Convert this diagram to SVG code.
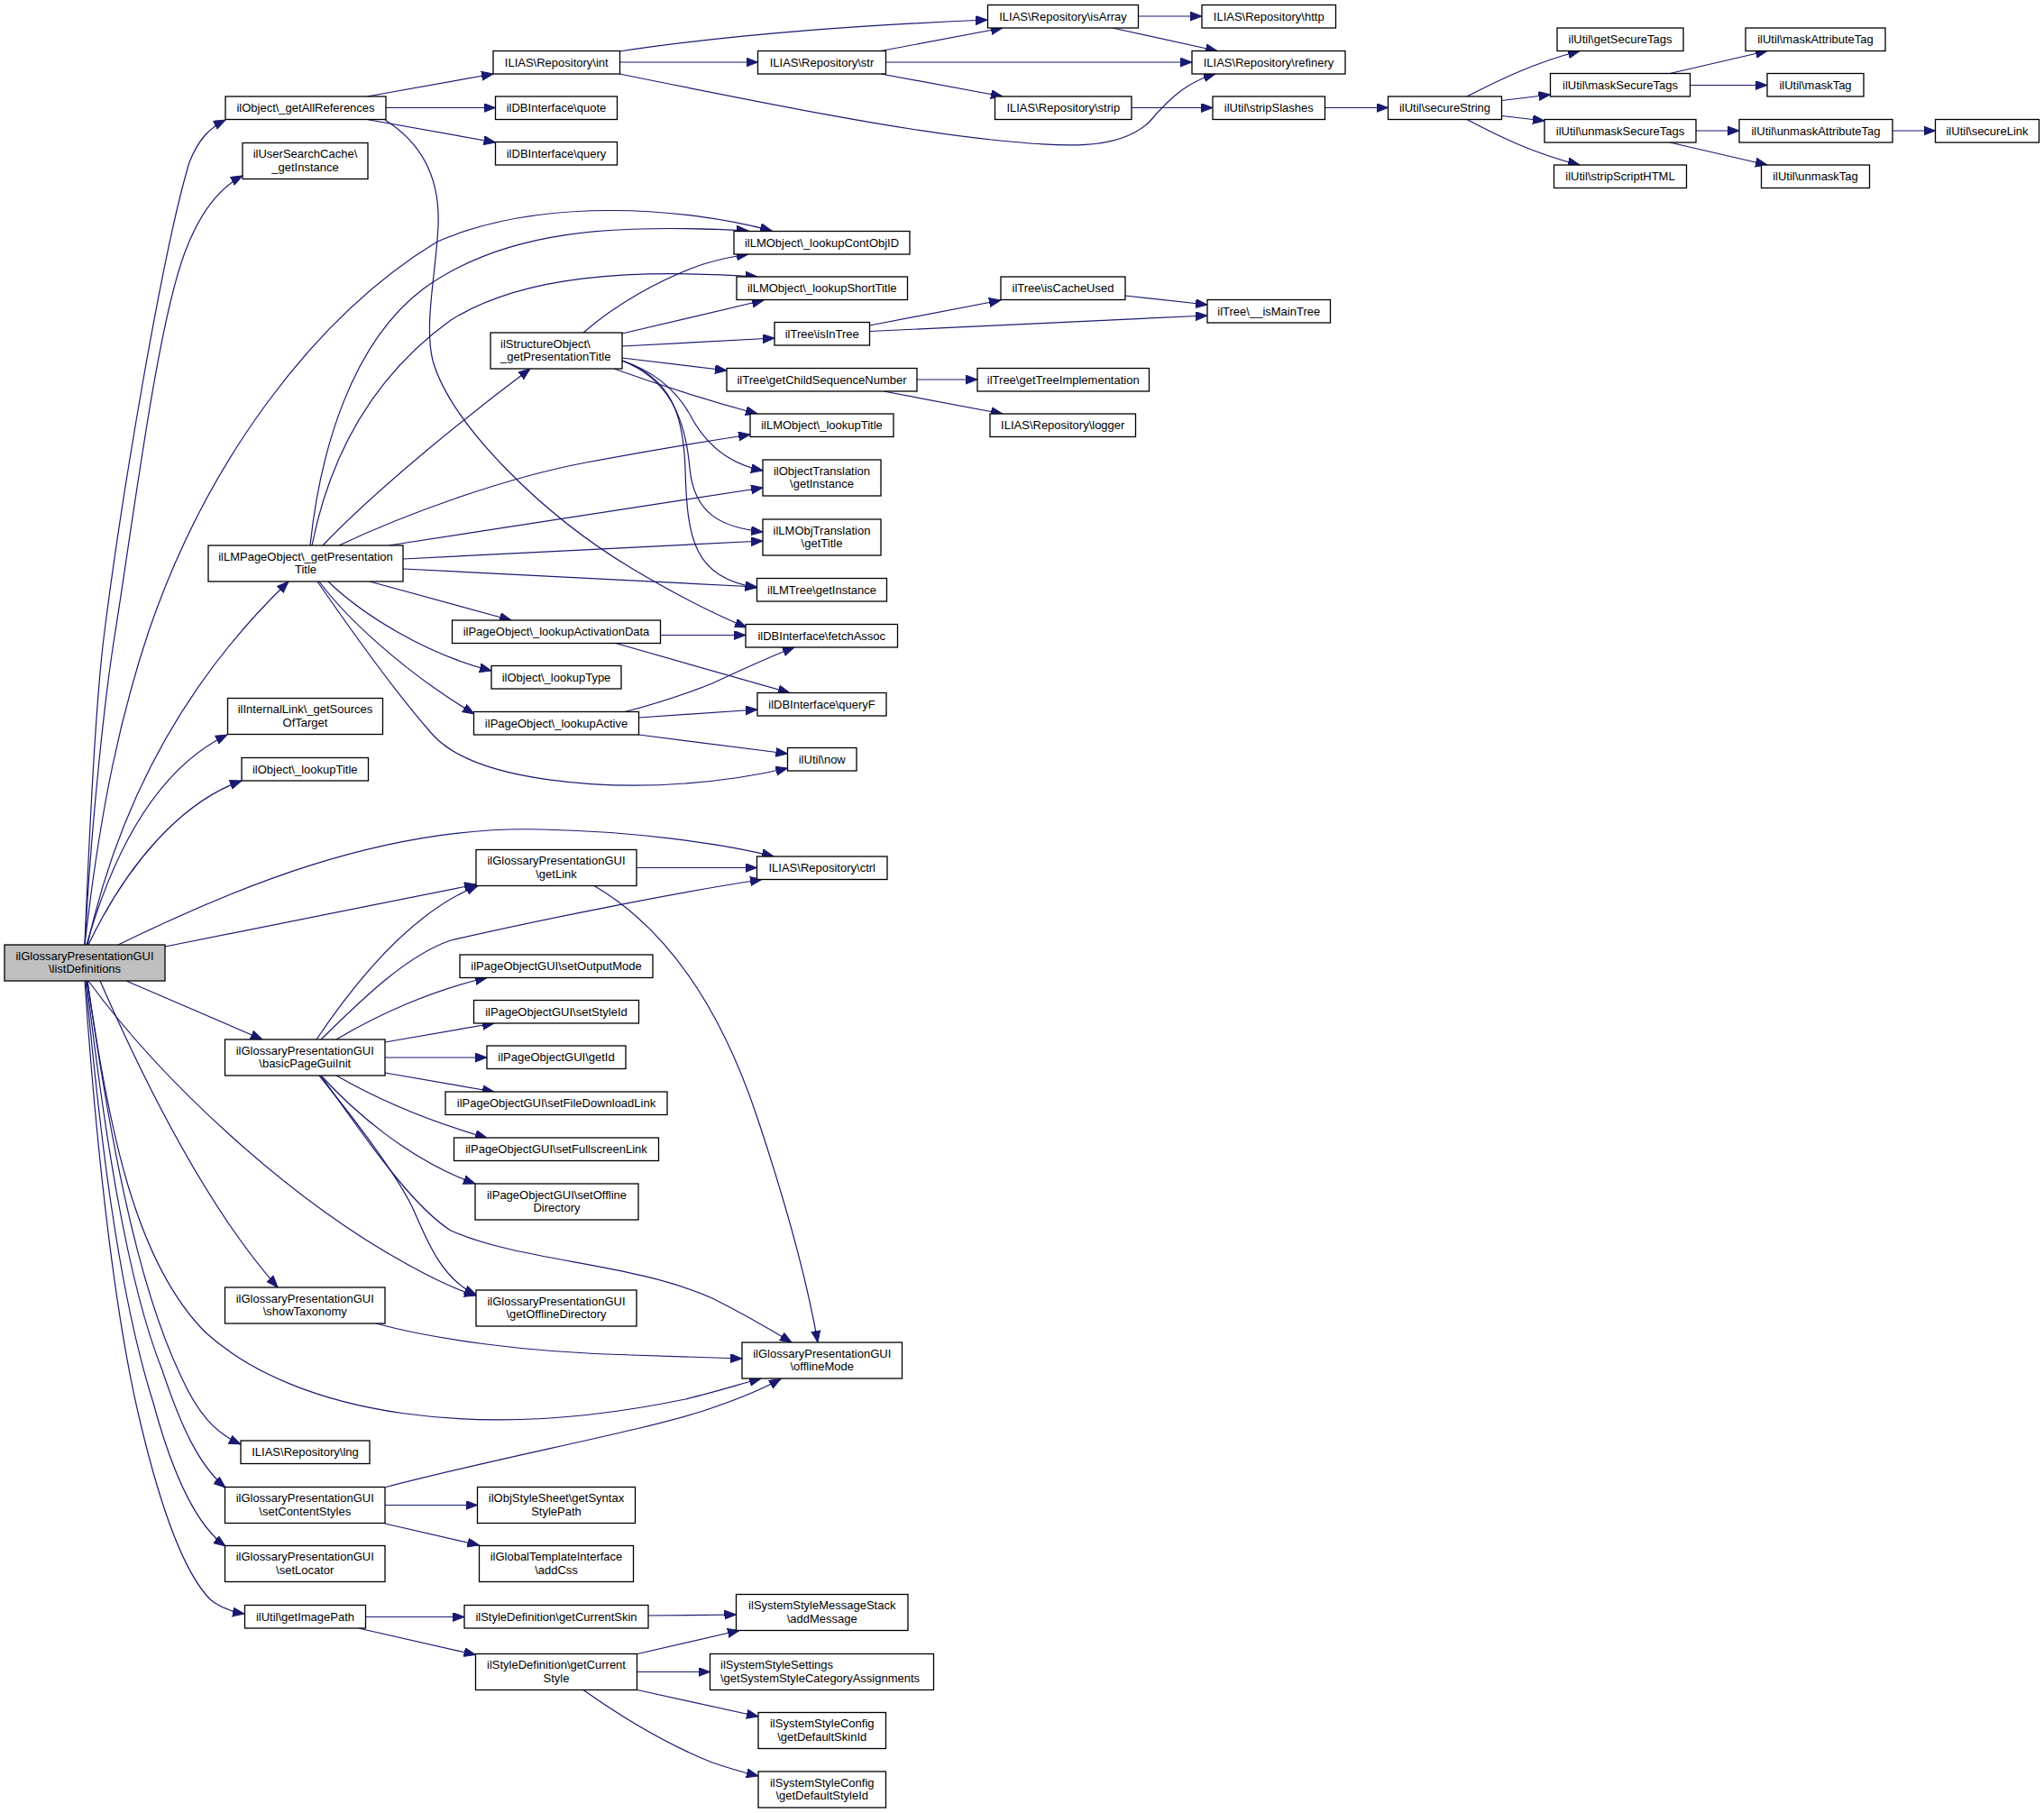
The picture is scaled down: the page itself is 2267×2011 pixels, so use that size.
<svg xmlns="http://www.w3.org/2000/svg" width="2267" height="2011" viewBox="0 0 2267 2011">
<style>
.n rect{fill:#fff;stroke:#000;stroke-width:1.3}
.root rect{fill:#bfbfbf}
.n text{font-family:"Liberation Sans",Arial,Helvetica,sans-serif;font-size:13px;fill:#000;text-anchor:middle}
.n text.l{text-anchor:start}
.e path{fill:none;stroke:#191970;stroke-width:1.2;marker-end:url(#arr)}
</style>
<defs>
<marker id="arr" markerUnits="userSpaceOnUse" markerWidth="15" markerHeight="12" refX="13" refY="5" orient="auto"><path d="M0,0 L13,5 L0,10 z" fill="#191970" stroke="#191970" stroke-width="1"/></marker>
</defs>
<rect width="2267" height="2011" fill="#fff"/>
<g id="connectors" class="e">
<path d="M94,1048 C100,900 108,760 116,700 C135,550 180,280 210,180 C220,155 232,142 250,133"/>
<path d="M94,1048 C102,900 118,760 128,700 C150,560 175,360 205,280 C220,240 240,210 269,195"/>
<path d="M94,1048 C112,890 135,790 165,700 C230,510 350,350 485,268 C600,218 760,230 856,256"/>
<path d="M97,1048 C130,900 200,760 320,645"/>
<path d="M96,1048 C130,930 180,850 252,815"/>
<path d="M98,1048 C140,960 200,890 268,866"/>
<path d="M131,1048 C250,990 420,915 600,920 C700,922 800,935 858,950"/>
<path d="M183,1050 L528,981"/>
<path d="M140,1088 L291,1153"/>
<path d="M111,1088 C160,1200 230,1340 308,1428"/>
<path d="M98,1088 C180,1200 320,1330 451,1402 C478,1417 503,1430 528,1437"/>
<path d="M97,1088 C120,1250 150,1400 228,1478 C330,1570 530,1600 760,1552 C790,1545 815,1537 844,1529"/>
<path d="M97,1088 C120,1250 150,1420 200,1525 C220,1570 240,1590 267,1602"/>
<path d="M96,1088 C115,1250 140,1420 180,1520 C200,1580 220,1625 250,1650"/>
<path d="M95,1088 C110,1250 130,1430 170,1556 C190,1630 215,1690 250,1715"/>
<path d="M94,1088 C105,1250 125,1450 155,1575 C175,1660 200,1740 233,1774 C245,1784 258,1788 271,1790"/>
<path d="M407,107 L547,82"/>
<path d="M428,119.5 L549.5,119.5"/>
<path d="M407,132.5 L549.5,158"/>
<path d="M427,133 C470,160 488,200 486,250 C484,300 470,360 480,400 C500,470 600,570 700,630 C750,660 790,680 828,696"/>
<path d="M687,57 C800,40 950,28 1095,22"/>
<path d="M687.5,69 L840.5,69"/>
<path d="M687,82 C850,115 1000,145 1100,155 C1180,163 1240,168 1275,135 C1300,105 1320,90 1348,82"/>
<path d="M977,56.5 L1112,31"/>
<path d="M982.5,69 L1322,69"/>
<path d="M977,82 L1112,107"/>
<path d="M1262.5,18 L1333,18"/>
<path d="M1234,31 L1350,56.5"/>
<path d="M1255,119.5 L1345,119.5"/>
<path d="M1469.5,119.5 L1539.5,119.5"/>
<path d="M1627,107 C1660,90 1700,70 1752,56.5"/>
<path d="M1665.5,111.5 L1719.5,105"/>
<path d="M1665.5,128.5 L1713,134"/>
<path d="M1627,132.5 C1660,150 1700,170 1752,183"/>
<path d="M1852,81.5 L1960,56.5"/>
<path d="M1874.5,94.5 L1960,94.5"/>
<path d="M1881,145 L1929,145"/>
<path d="M1852,158 L1960,183"/>
<path d="M2099,145 L2146.5,145"/>
<path d="M647,369 C680,340 730,310 780,293 C800,287 815,284 830,282"/>
<path d="M690,370 L847,333"/>
<path d="M690,384 L859,375"/>
<path d="M690,397 L806,411"/>
<path d="M681,409 C720,423 780,443 840,459"/>
<path d="M690,400 C720,410 750,430 768,465 C785,495 810,515 846,522"/>
<path d="M690,400 C740,420 760,460 765,520 C770,570 800,585 846,590"/>
<path d="M690,400 C745,420 758,460 760,520 C762,600 770,640 839.5,652"/>
<path d="M358,605 C420,540 520,460 588,409"/>
<path d="M344,605 C355,500 390,380 470,320 C560,255 680,248 830,256"/>
<path d="M346,605 C365,510 410,420 500,355 C580,305 700,298 840,307"/>
<path d="M376,605 C450,570 560,530 650,513 C720,500 780,490 832,482"/>
<path d="M431,605 L846,541"/>
<path d="M447,620 L846,600"/>
<path d="M447,631 L839.5,651"/>
<path d="M410,645 L567,688"/>
<path d="M364,645 C400,680 470,725 545,744"/>
<path d="M354,645 C380,680 440,740 526,792"/>
<path d="M352,645 C390,700 440,770 480,815 C530,870 680,875 760,869 C800,866 840,860 873.5,852"/>
<path d="M732.5,704.5 L827,704.5"/>
<path d="M683,713.5 L876,768.5"/>
<path d="M693,789.5 C730,780 760,770 790,758 C820,744 850,730 881,718"/>
<path d="M708.5,796 L840,787"/>
<path d="M708.5,815 L873.5,836"/>
<path d="M964.5,361 L1110,333"/>
<path d="M964.5,367.5 L1339,350"/>
<path d="M1248,328 L1339,338"/>
<path d="M1017,421 L1084,421"/>
<path d="M980,434 L1112,459"/>
<path d="M706,962.5 L839.5,962.5"/>
<path d="M659,982.5 C740,1030 800,1120 840,1240 C870,1330 895,1420 907,1489"/>
<path d="M351,1153 C400,1080 460,1010 530,982.5"/>
<path d="M356,1153 C400,1110 450,1060 500,1043 C600,1020 750,990 845,975.5"/>
<path d="M373,1153 C420,1125 480,1098 540,1084.5"/>
<path d="M427,1156 L548,1135"/>
<path d="M427,1173 L540,1173"/>
<path d="M427,1190 L548,1211"/>
<path d="M373,1193 C420,1220 480,1245 540,1262"/>
<path d="M356,1193 C390,1230 450,1285 527,1313"/>
<path d="M354,1193 C400,1250 445,1310 460,1345 C475,1380 492,1420 528,1436"/>
<path d="M356,1193 C410,1270 460,1340 500,1365 C580,1400 700,1400 790,1440 C820,1455 850,1472 878,1489"/>
<path d="M417,1468 C480,1485 580,1500 700,1503 C750,1505 790,1506 823,1507"/>
<path d="M428,1649.5 C560,1615 700,1590 780,1565 C810,1555 838,1545 866,1529.5"/>
<path d="M427,1669.5 L529.5,1669.5"/>
<path d="M427,1690 L531.5,1714"/>
<path d="M405.5,1793.5 L515,1793.5"/>
<path d="M397.5,1806 L527.5,1835.5"/>
<path d="M719,1792 L816.5,1791"/>
<path d="M707,1834.5 L820,1808.5"/>
<path d="M706.5,1854.5 L787.5,1854.5"/>
<path d="M707,1874.5 L841,1904"/>
<path d="M647,1874.5 C690,1905 740,1935 790,1955 C810,1962 825,1966 841,1970"/>
</g>
<g id="n_L" class="n root"><rect x="5" y="1048" width="178" height="40"/><text x="94" y="1064.5">ilGlossaryPresentationGUI</text><text x="94" y="1079">\listDefinitions</text></g>
<g id="n_gar" class="n"><rect x="250" y="107" width="178" height="25.5"/><text x="339" y="124.3">ilObject\_getAllReferences</text></g>
<g id="n_usc" class="n"><rect x="269" y="158.5" width="139" height="40"/><text x="338.5" y="175">ilUserSearchCache\</text><text x="338.5" y="189.5">_getInstance</text></g>
<g id="n_lmp" class="n"><rect x="231" y="605" width="216" height="40"/><text x="339" y="621.5">ilLMPageObject\_getPresentation</text><text x="339" y="636">Title</text></g>
<g id="n_il" class="n"><rect x="252.5" y="774.5" width="172" height="40"/><text x="338.5" y="791">ilInternalLink\_getSources</text><text x="338.5" y="805.5">OfTarget</text></g>
<g id="n_olt" class="n"><rect x="268" y="840.5" width="140.5" height="25.5"/><text x="338.25" y="857.8">ilObject\_lookupTitle</text></g>
<g id="n_bpg" class="n"><rect x="249.5" y="1153" width="177.5" height="40"/><text x="338.25" y="1169.5">ilGlossaryPresentationGUI</text><text x="338.25" y="1184">\basicPageGuiInit</text></g>
<g id="n_st" class="n"><rect x="249.5" y="1428" width="177.5" height="40"/><text x="338.25" y="1444.5">ilGlossaryPresentationGUI</text><text x="338.25" y="1459">\showTaxonomy</text></g>
<g id="n_lng" class="n"><rect x="267" y="1598" width="143" height="25.5"/><text x="338.5" y="1615.3">ILIAS\Repository\lng</text></g>
<g id="n_scs" class="n"><rect x="249.5" y="1649.5" width="177.5" height="40"/><text x="338.25" y="1666">ilGlossaryPresentationGUI</text><text x="338.25" y="1680.5">\setContentStyles</text></g>
<g id="n_sl" class="n"><rect x="249.5" y="1714.5" width="177.5" height="40"/><text x="338.25" y="1731">ilGlossaryPresentationGUI</text><text x="338.25" y="1745.5">\setLocator</text></g>
<g id="n_gip" class="n"><rect x="271.5" y="1780.5" width="134" height="25.5"/><text x="338.5" y="1797.8">ilUtil\getImagePath</text></g>
<g id="n_int" class="n"><rect x="547" y="56.5" width="140.5" height="25.5"/><text x="617.25" y="73.8">ILIAS\Repository\int</text></g>
<g id="n_quote" class="n"><rect x="549.5" y="107" width="135" height="25.5"/><text x="617" y="124.3">ilDBInterface\quote</text></g>
<g id="n_query" class="n"><rect x="549.5" y="157.5" width="135" height="25.5"/><text x="617" y="174.8">ilDBInterface\query</text></g>
<g id="n_so" class="n"><rect x="544" y="369" width="146" height="40"/><text class="l" x="555" y="385.5">ilStructureObject\</text><text class="l" x="555" y="400">_getPresentationTitle</text></g>
<g id="n_lad" class="n"><rect x="501.5" y="688" width="231" height="25.5"/><text x="617" y="705.3">ilPageObject\_lookupActivationData</text></g>
<g id="n_lt" class="n"><rect x="545" y="738.5" width="144" height="25.5"/><text x="617" y="755.8">ilObject\_lookupType</text></g>
<g id="n_la" class="n"><rect x="525.5" y="789.5" width="183" height="25.5"/><text x="617" y="806.8">ilPageObject\_lookupActive</text></g>
<g id="n_gl" class="n"><rect x="528" y="942.5" width="178" height="40"/><text x="617" y="959">ilGlossaryPresentationGUI</text><text x="617" y="973.5">\getLink</text></g>
<g id="n_som" class="n"><rect x="510" y="1059" width="214" height="25.5"/><text x="617" y="1076.3">ilPageObjectGUI\setOutputMode</text></g>
<g id="n_ssi" class="n"><rect x="525.5" y="1109.5" width="183" height="25.5"/><text x="617" y="1126.8">ilPageObjectGUI\setStyleId</text></g>
<g id="n_gid" class="n"><rect x="540" y="1160" width="154" height="25.5"/><text x="617" y="1177.3">ilPageObjectGUI\getId</text></g>
<g id="n_sfd" class="n"><rect x="494" y="1211" width="246" height="25.5"/><text x="617" y="1228.3">ilPageObjectGUI\setFileDownloadLink</text></g>
<g id="n_sfl" class="n"><rect x="503.5" y="1262" width="227" height="25.5"/><text x="617" y="1279.3">ilPageObjectGUI\setFullscreenLink</text></g>
<g id="n_sod" class="n"><rect x="527" y="1313" width="181" height="40"/><text x="617.5" y="1329.5">ilPageObjectGUI\setOffline</text><text x="617.5" y="1344">Directory</text></g>
<g id="n_god" class="n"><rect x="528" y="1431" width="178" height="40"/><text x="617" y="1447.5">ilGlossaryPresentationGUI</text><text x="617" y="1462">\getOfflineDirectory</text></g>
<g id="n_gss" class="n"><rect x="529.5" y="1649.5" width="175" height="40"/><text x="617" y="1666">ilObjStyleSheet\getSyntax</text><text x="617" y="1680.5">StylePath</text></g>
<g id="n_css" class="n"><rect x="531.5" y="1714.5" width="171" height="40"/><text x="617" y="1731">ilGlobalTemplateInterface</text><text x="617" y="1745.5">\addCss</text></g>
<g id="n_gcs" class="n"><rect x="515" y="1780.5" width="204" height="25.5"/><text x="617" y="1797.8">ilStyleDefinition\getCurrentSkin</text></g>
<g id="n_gcst" class="n"><rect x="527.5" y="1834.5" width="179" height="40"/><text x="617" y="1851">ilStyleDefinition\getCurrent</text><text x="617" y="1865.5">Style</text></g>
<g id="n_str" class="n"><rect x="840.5" y="56.5" width="142" height="25.5"/><text x="911.5" y="73.8">ILIAS\Repository\str</text></g>
<g id="n_lcoi" class="n"><rect x="814" y="256.5" width="195" height="25.5"/><text x="911.5" y="273.8">ilLMObject\_lookupContObjID</text></g>
<g id="n_lst" class="n"><rect x="817" y="307" width="189.5" height="25.5"/><text x="911.75" y="324.3">ilLMObject\_lookupShortTitle</text></g>
<g id="n_iit" class="n"><rect x="859" y="357.5" width="105.5" height="25.5"/><text x="911.75" y="374.8">ilTree\isInTree</text></g>
<g id="n_gcsn" class="n"><rect x="806" y="408.5" width="211" height="25.5"/><text x="911.5" y="425.8">ilTree\getChildSequenceNumber</text></g>
<g id="n_lmlt" class="n"><rect x="832" y="459" width="159" height="25.5"/><text x="911.5" y="476.3">ilLMObject\_lookupTitle</text></g>
<g id="n_otr" class="n"><rect x="846" y="510" width="131" height="40"/><text x="911.5" y="526.5">ilObjectTranslation</text><text x="911.5" y="541">\getInstance</text></g>
<g id="n_lmot" class="n"><rect x="846" y="576" width="131" height="40"/><text x="911.5" y="592.5">ilLMObjTranslation</text><text x="911.5" y="607">\getTitle</text></g>
<g id="n_lmtree" class="n"><rect x="839.5" y="641.5" width="144" height="25.5"/><text x="911.5" y="658.8">ilLMTree\getInstance</text></g>
<g id="n_fa" class="n"><rect x="827" y="692.5" width="168.5" height="25.5"/><text x="911.25" y="709.8">ilDBInterface\fetchAssoc</text></g>
<g id="n_qf" class="n"><rect x="840" y="768.5" width="143" height="25.5"/><text x="911.5" y="785.8">ilDBInterface\queryF</text></g>
<g id="n_now" class="n"><rect x="873.5" y="829.5" width="76.5" height="25.5"/><text x="911.75" y="846.8">ilUtil\now</text></g>
<g id="n_ctrl" class="n"><rect x="839.5" y="950" width="144.5" height="25.5"/><text x="911.75" y="967.3">ILIAS\Repository\ctrl</text></g>
<g id="n_om" class="n"><rect x="823" y="1489" width="177.5" height="40"/><text x="911.75" y="1505.5">ilGlossaryPresentationGUI</text><text x="911.75" y="1520">\offlineMode</text></g>
<g id="n_am" class="n"><rect x="816.5" y="1768.5" width="190.5" height="40"/><text x="911.75" y="1785">ilSystemStyleMessageStack</text><text x="911.75" y="1799.5">\addMessage</text></g>
<g id="n_gsca" class="n"><rect x="787.5" y="1834.5" width="248" height="40"/><text class="l" x="799" y="1851">ilSystemStyleSettings</text><text class="l" x="799" y="1865.5">\getSystemStyleCategoryAssignments</text></g>
<g id="n_gdsk" class="n"><rect x="841" y="1899.5" width="141.5" height="40"/><text x="911.75" y="1916">ilSystemStyleConfig</text><text x="911.75" y="1930.5">\getDefaultSkinId</text></g>
<g id="n_gdst" class="n"><rect x="841" y="1965" width="141.5" height="40"/><text x="911.75" y="1981.5">ilSystemStyleConfig</text><text x="911.75" y="1996">\getDefaultStyleId</text></g>
<g id="n_isa" class="n"><rect x="1095.5" y="5.5" width="167" height="25.5"/><text x="1179" y="22.8">ILIAS\Repository\isArray</text></g>
<g id="n_strip" class="n"><rect x="1103.5" y="107" width="151.5" height="25.5"/><text x="1179.25" y="124.3">ILIAS\Repository\strip</text></g>
<g id="n_icu" class="n"><rect x="1110" y="307" width="138" height="25.5"/><text x="1179" y="324.3">ilTree\isCacheUsed</text></g>
<g id="n_gti" class="n"><rect x="1084" y="408.5" width="190.5" height="25.5"/><text x="1179.25" y="425.8">ilTree\getTreeImplementation</text></g>
<g id="n_log" class="n"><rect x="1098" y="459" width="161.5" height="25.5"/><text x="1178.75" y="476.3">ILIAS\Repository\logger</text></g>
<g id="n_http" class="n"><rect x="1333" y="5.5" width="148.5" height="25.5"/><text x="1407.25" y="22.8">ILIAS\Repository\http</text></g>
<g id="n_ref" class="n"><rect x="1322" y="56.5" width="170" height="25.5"/><text x="1407" y="73.8">ILIAS\Repository\refinery</text></g>
<g id="n_ss" class="n"><rect x="1345" y="107" width="124.5" height="25.5"/><text x="1407.25" y="124.3">ilUtil\stripSlashes</text></g>
<g id="n_imt" class="n"><rect x="1339" y="332.5" width="136.5" height="25.5"/><text x="1407.25" y="349.8">ilTree\__isMainTree</text></g>
<g id="n_sst" class="n"><rect x="1539.5" y="107" width="126" height="25.5"/><text x="1602.5" y="124.3">ilUtil\secureString</text></g>
<g id="n_gst" class="n"><rect x="1727" y="31" width="140" height="25.5"/><text x="1797" y="48.3">ilUtil\getSecureTags</text></g>
<g id="n_mst" class="n"><rect x="1719.5" y="81.5" width="155" height="25.5"/><text x="1797" y="98.8">ilUtil\maskSecureTags</text></g>
<g id="n_ust" class="n"><rect x="1713" y="132.5" width="168" height="25.5"/><text x="1797" y="149.8">ilUtil\unmaskSecureTags</text></g>
<g id="n_ssh" class="n"><rect x="1723.5" y="183" width="147" height="25.5"/><text x="1797" y="200.3">ilUtil\stripScriptHTML</text></g>
<g id="n_mat" class="n"><rect x="1936" y="31" width="155" height="25.5"/><text x="2013.5" y="48.3">ilUtil\maskAttributeTag</text></g>
<g id="n_mt" class="n"><rect x="1960" y="81.5" width="107" height="25.5"/><text x="2013.5" y="98.8">ilUtil\maskTag</text></g>
<g id="n_uat" class="n"><rect x="1929" y="132.5" width="170" height="25.5"/><text x="2014" y="149.8">ilUtil\unmaskAttributeTag</text></g>
<g id="n_ut" class="n"><rect x="1953.5" y="183" width="120" height="25.5"/><text x="2013.5" y="200.3">ilUtil\unmaskTag</text></g>
<g id="n_sli" class="n"><rect x="2146.5" y="132.5" width="115" height="25.5"/><text x="2204" y="149.8">ilUtil\secureLink</text></g>
</svg>
